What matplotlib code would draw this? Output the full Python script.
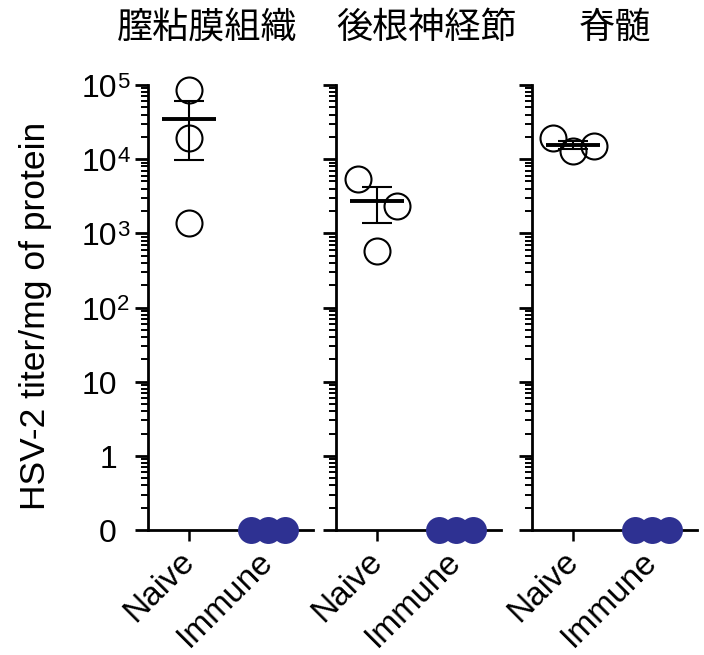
import numpy as np
import matplotlib
matplotlib.use("Agg")
import matplotlib.pyplot as plt
import matplotlib.transforms as mtransforms
from matplotlib.ticker import FixedLocator, LogLocator, NullFormatter

plt.rcParams["font.family"] = ["Liberation Sans", "Noto Sans CJK JP"]

# groups and tissues
groups = ["Naive", "Immune"]
tissues = ["膣粘膜組織", "後根神経節", "脊髄"]

# HSV-2 titer per mg protein, three animals per group
naive_vagina = [84600, 19400, 1380]
naive_drg = [5370, 2360, 580]
naive_spinal = [19200, 12700, 15100]
immune_vagina = [0, 0, 0]
immune_drg = [0, 0, 0]
immune_spinal = [0, 0, 0]

# y tick values with base / exponent parts of their labels
ytick_values = [0.1, 1, 10, 1e2, 1e3, 1e4, 1e5]
ytick_base = ["0", "1", "10", "10", "10", "10", "10"]
ytick_exp = ["", "", "", "2", "3", "4", "5"]

# horizontal spread of overlapping points
naive_offsets = [[0.0, 0.0, 0.0], [-0.24, 0.25, 0.0], [-0.25, 0.0, 0.26]]
immune_offsets = [-0.22, 0.0, 0.22]

ZERO_POS = 0.1  # zero titers sit on the floor of the log axis
NAVY = "#2e3192"

naive_sets = [naive_vagina, naive_drg, naive_spinal]
immune_sets = [immune_vagina, immune_drg, immune_spinal]

W, H = 704, 655
fig = plt.figure(figsize=(W / 100, H / 100), dpi=100)

left_px = [148, 336, 532]
width_px = 165
bottom_px, top_px = 530, 85

axes = []
for i, (naive, immune) in enumerate(zip(naive_sets, immune_sets)):
    ax = fig.add_axes([left_px[i] / W, (H - bottom_px) / H,
                       width_px / W, (bottom_px - top_px) / H])
    axes.append(ax)
    ax.set_yscale("log")
    ax.set_ylim(0.1, 1e5)
    ax.set_xlim(-0.52, 1.57)

    naive = np.asarray(naive, dtype=float)
    mean = naive.mean()
    sem = naive.std(ddof=1) / np.sqrt(len(naive))

    ax.errorbar(0, mean, yerr=sem, fmt="none", ecolor="black",
                elinewidth=1.5, capsize=10.5, capthick=1.5, zorder=2)
    ax.hlines(mean, -0.34, 0.34, color="black", lw=2.8, zorder=2)
    ax.plot(np.array(naive_offsets[i]), naive, "o", ms=18.7, mfc="none",
            mec="black", mew=1.5, zorder=3, clip_on=False)

    imm = np.asarray(immune, dtype=float)
    imm = np.where(imm > 0, imm, ZERO_POS)
    ax.plot(1 + np.array(immune_offsets), imm, "o", ms=19.4, color=NAVY,
            mew=0, zorder=4, clip_on=False)

    for side in ("top", "right"):
        ax.spines[side].set_visible(False)
    ax.spines["left"].set_linewidth(2)
    ax.spines["bottom"].set_linewidth(2)

    ax.yaxis.set_major_locator(FixedLocator(ytick_values))
    ax.yaxis.set_minor_locator(LogLocator(base=10, subs=np.arange(2, 10)))
    ax.yaxis.set_minor_formatter(NullFormatter())
    ax.set_yticklabels([])
    ax.tick_params(axis="y", which="major", length=9.4, width=2)
    ax.tick_params(axis="y", which="minor", length=5, width=1.4)

    ax.set_xticks([0, 1])
    ax.set_xticklabels(groups, rotation=45, ha="right", va="center",
                       rotation_mode="anchor")
    ax.tick_params(axis="x", length=8, width=1.8, labelsize=24, pad=11.5)

# y tick labels on the first panel: base digits right-aligned, exponent hanging
ax0 = axes[0]
trans = mtransforms.blended_transform_factory(fig.transFigure, ax0.transData)
base_shift = mtransforms.ScaledTranslation(0, -4 / 100, fig.dpi_scale_trans)
exp_shift = mtransforms.ScaledTranslation(0, 3 / 100, fig.dpi_scale_trans)
for v, base, exp in zip(ytick_values, ytick_base, ytick_exp):
    ax0.text(117 / W, v, base, transform=trans + base_shift,
             ha="right", va="center", fontsize=23, clip_on=False)
    if exp:
        ax0.text(117 / W, v, exp, transform=trans + exp_shift,
                 ha="left", va="center", fontsize=16, clip_on=False)

title_x = [207, 427, 615]
for tx, tissue in zip(title_x, tissues):
    fig.text(tx / W, 1 - 28 / H, tissue, ha="center", va="center",
             fontsize=26, family=["Noto Sans CJK JP", "DejaVu Sans"])

fig.text(36 / W, 1 - 316 / H, "HSV-2 titer/mg of protein", rotation=90,
         ha="center", va="center", fontsize=25.5)

fig.savefig("out.png", dpi=100)
